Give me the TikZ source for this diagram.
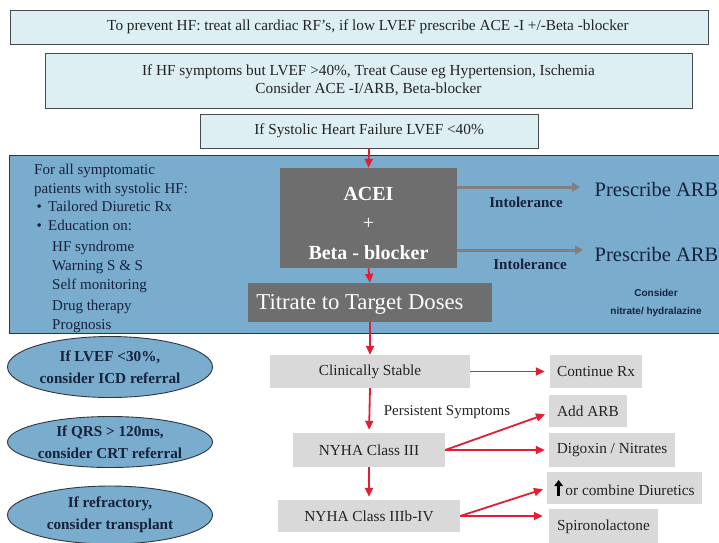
\documentclass[tikz,border=0pt]{standalone}
\usepackage{fontspec}
\setmainfont{Liberation Serif}
\newfontfamily\arialfont{Liberation Sans}
\usetikzlibrary{shapes.geometric,arrows.meta,calc}
\definecolor{cyanfill}{RGB}{221,239,243}
\definecolor{boxline}{RGB}{70,75,80}
\definecolor{panelblue}{RGB}{122,172,205}
\definecolor{panelline}{RGB}{45,55,65}
\definecolor{darkboxfill}{RGB}{110,110,110}
\definecolor{lightboxfill}{RGB}{217,217,217}
\definecolor{navytext}{RGB}{22,34,60}
\definecolor{arrowred}{RGB}{228,30,50}
\definecolor{arrowgray}{RGB}{128,128,128}
\definecolor{bodytext}{RGB}{35,35,35}
\tikzset{
  topbox/.style={draw=boxline, fill=cyanfill, line width=0.9pt, inner sep=0pt, text=bodytext, align=center, font=\fontsize{15.3}{18.5}\selectfont},
  darkbox/.style={fill=darkboxfill, inner sep=0pt, text=white, align=center},
  lightbox/.style={fill=lightboxfill, inner sep=0pt, text=bodytext, font=\fontsize{15.3}{18}\selectfont},
  oval/.style={ellipse, draw=panelline, fill=panelblue, line width=0.9pt, inner sep=0pt, text=navytext, align=center, font=\bfseries\fontsize{15.2}{22}\selectfont},
  redarrow/.style={draw=arrowred, line width=1.8pt, -{Triangle[length=9pt,width=8pt]}},
  grayarrow/.style={draw=arrowgray, line width=3pt, -{Triangle[length=8pt,width=9pt]}},
  navylabel/.style={text=navytext, inner sep=0pt},
}
\begin{document}
\begin{tikzpicture}[x=1pt,y=-1pt]
\useasboundingbox (0,0) rectangle (719,542);
\clip (0,0) rectangle (719,542);
\fill[white] (0,0) rectangle (719,542);

% top boxes
\node[topbox, minimum width=698pt, minimum height=34pt] (t1) at (359,27) {};
\node[topbox, draw=none, fill=none] (t1text) at (368,27) {To prevent HF: treat all cardiac RF's, if low LVEF prescribe ACE -I +/-Beta -blocker};
\node[topbox, minimum width=647pt, minimum height=55pt] (t2) at (368.5,80.5) {If HF symptoms but LVEF >40\%, Treat Cause eg Hypertension, Ischemia\\Consider ACE -I/ARB, Beta-blocker};
\node[topbox, minimum width=338pt, minimum height=34pt] (t3) at (369,131) {If Systolic Heart Failure LVEF <40\%};

% blue panel
\node[draw=panelline, fill=panelblue, line width=1.2pt, inner sep=0pt, minimum width=730pt, minimum height=178pt, anchor=north west] (panel) at (9,155) {};

\node[navylabel, anchor=north west, align=left, font=\fontsize{15}{19}\selectfont] (edu) at (34,163.5) {For all symptomatic\\patients with systolic HF:\\[-0.5pt]\,•\, Tailored Diuretic Rx\\\,•\, Education on:\\[1.5pt]\hspace{18pt}HF syndrome\\\hspace{18pt}Warning S \& S\\\hspace{18pt}Self monitoring\\[2.5pt]\hspace{18pt}Drug therapy\\\hspace{18pt}Prognosis};

\node[darkbox, minimum width=177pt, minimum height=100pt] (acei) at (368.5,218) {};
\node[darkbox, fill=none, font=\fontsize{20}{29.5}\selectfont] (aceitext) at (368.5,223) {\textbf{ACEI}\\+\\\textbf{Beta - blocker}};
\node[darkbox, minimum width=244pt, minimum height=39pt] (titr) at (370,302.5) {};
\node[darkbox, fill=none, font=\fontsize{22.7}{24}\selectfont] (titrtext) at (360,304) {Titrate to Target Doses};

\node[text=navytext, inner sep=0pt, font=\fontsize{20.5}{22}\selectfont] (arb1) at (656.5,189) {Prescribe ARB};
\node[text=navytext, inner sep=0pt, font=\fontsize{20.5}{22}\selectfont] (arb2) at (656.5,254) {Prescribe ARB};
\node[navylabel, font=\bfseries\fontsize{15}{17}\selectfont] (intol1) at (526,202) {Intolerance};
\node[navylabel, font=\bfseries\fontsize{15}{17}\selectfont] (intol2) at (530,264) {Intolerance};
\node[navylabel, align=center, font=\arialfont\bfseries\fontsize{10}{18}\selectfont] (nitr) at (656,302.5) {Consider\\nitrate/ hydralazine};

\coordinate (g1s) at (acei.east |- 0,187);
\coordinate (g1e) at (580,187);
\coordinate (g2s) at (acei.east |- 0,250);
\coordinate (g2e) at (583,250);
\draw[grayarrow] (g1s) -- (g1e);
\draw[grayarrow] (g2s) -- (g2e);

% ellipses
\node[oval, minimum width=205pt, minimum height=61pt] (icd) at (110,367) {If LVEF <30\%,\\consider ICD referral};
\node[oval, minimum width=205pt, minimum height=51pt] (crt) at (110,442) {If QRS > 120ms,\\consider CRT referral};
\node[oval, minimum width=205pt, minimum height=58pt] (tx) at (110,515) {If refractory,\\consider transplant};

% light boxes
\node[lightbox, minimum width=200pt, minimum height=33pt] (cs) at (370,371.5) {Clinically Stable};
\node[lightbox, minimum width=152pt, minimum height=34pt] (n3) at (369,450) {NYHA Class III};
\node[lightbox, minimum width=182pt, minimum height=32pt] (n4) at (369,516) {NYHA Class IIIb-IV};
\node[lightbox, minimum width=92pt, minimum height=33pt] (crx) at (596,371.5) {Continue Rx};
\node[lightbox, minimum width=78pt, minimum height=32pt] (addarb) at (588,411) {Add ARB};
\node[lightbox, minimum width=126pt, minimum height=34pt] (dig) at (612,450) {Digoxin / Nitrates};
\node[lightbox, minimum width=155pt, minimum height=32pt] (diu) at (624.5,488) {\tikz[baseline=0pt]{\draw[black, line width=2.8pt, -{Triangle[length=6pt,width=8.5pt]}] (0,-1pt) -- (0,15pt);}\,or combine Diuretics};
\node[lightbox, minimum width=109pt, minimum height=36pt] (spi) at (603.5,527) {Spironolactone};

\node[text=bodytext, inner sep=0pt, font=\fontsize{15}{18}\selectfont] (pers) at (447,412) {Persistent Symptoms};

% red arrows
\draw[redarrow] (t3.south) -- (acei.north);
\draw[redarrow] (acei.south) -- (titr.north);
\draw[redarrow] (titr.south) -- (cs.north);
\draw[redarrow, shorten >=5pt] (cs.east) -- (crx.west);
\draw[redarrow, shorten >=3pt] (cs.south) -- (n3.north);
\draw[redarrow, shorten >=4pt] (n3.east) -- ($(addarb.west)+(0,2)$);
\draw[redarrow, shorten >=4pt] (n3.east) -- (dig.west);
\draw[redarrow, shorten >=3pt] (n3.south) -- (n4.north);
\draw[redarrow, shorten >=4pt] (n4.east) -- (diu.west);
\draw[redarrow, shorten >=6pt] (n4.east) -- (n4.east -| spi.west);
\end{tikzpicture}
\end{document}
